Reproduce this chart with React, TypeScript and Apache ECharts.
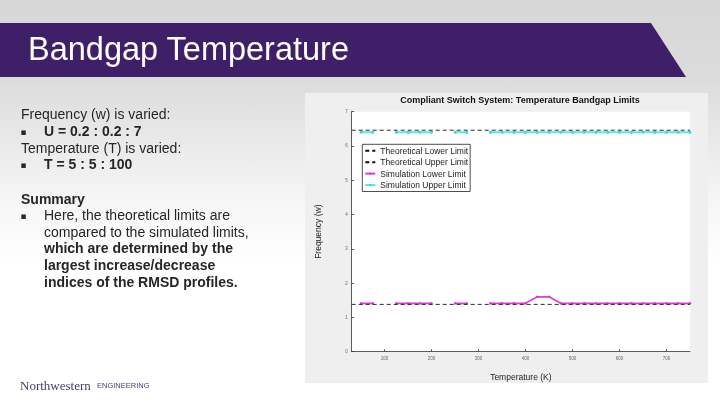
import React, { useEffect, useRef } from "react";
import * as echarts from "echarts";

// ---- data ----
const temperatureK = [50, 75, 100, 125, 150, 175, 200, 225, 250, 275, 300, 325, 350, 375, 400, 425, 450, 475, 500, 525, 550, 575, 600, 625, 650, 675, 700, 725, 750];
const simLower = [1.41, 1.41, null, 1.41, 1.41, 1.41, 1.41, null, 1.41, 1.41, null, 1.41, 1.41, 1.41, 1.41, 1.6, 1.6, 1.41, 1.41, 1.41, 1.41, 1.41, 1.41, 1.41, 1.41, 1.41, 1.41, 1.41, 1.41];
const simUpper = [6.4, 6.4, null, 6.4, 6.4, 6.4, 6.4, null, 6.4, 6.4, null, 6.4, 6.4, 6.4, 6.4, 6.4, 6.4, 6.4, 6.4, 6.4, 6.4, 6.4, 6.4, 6.4, 6.4, 6.4, 6.4, 6.4, 6.4];
const theoryX = [30, 750];
const theoryLower = [1.38, 1.38];
const theoryUpper = [6.46, 6.46];
const xTickValues = [100, 200, 300, 400, 500, 600, 700];
const seriesNames = ["Theoretical Lower Limit", "Theoretical Upper Limit", "Simulation Lower Limit", "Simulation Upper Limit"];

const slideTitle = "Bandgap Temperature";
const chartTitle = "Compliant Switch System: Temperature Bandgap Limits";
const xName = "Temperature (K)";
const yName = "Frequency (w)";

const FONT = "'Liberation Sans', Arial, sans-serif";

const pairs = (xs: number[], ys: (number | null)[]) => xs.map((x, i) => [x, ys[i]]);

export default function App() {
  const ref = useRef<HTMLDivElement>(null);
  useEffect(() => {
    const chart = echarts.init(ref.current!, null, { renderer: "svg" });
    const textColor = "#262626";
    const bodyLines: { y: number; text: string; bold?: boolean; bullet?: boolean; x?: number }[] = [
      { y: 114, text: "Frequency (w) is varied:" },
      { y: 131, text: "U = 0.2 : 0.2 : 7", bold: true, bullet: true },
      { y: 147.5, text: "Temperature (T) is varied:" },
      { y: 164, text: "T = 5 : 5 : 100", bold: true, bullet: true },
      { y: 199, text: "Summary", bold: true },
      { y: 215, text: "Here, the theoretical limits are", bullet: true },
      { y: 231.5, text: "compared to the simulated limits,", x: 44 },
      { y: 248, text: "which are determined by the", bold: true, x: 44 },
      { y: 265, text: "largest increase/decrease", bold: true, x: 44 },
      { y: 282, text: "indices of the RMSD profiles.", bold: true, x: 44 },
    ];
    const graphics: any[] = [
      {
        type: "rect",
        z: -20,
        shape: { x: 0, y: 0, width: 720, height: 405 },
        style: {
          fill: new echarts.graphic.LinearGradient(0, 0, 0, 1, [
            { offset: 0, color: "#d7d7d7" },
            { offset: 0.2, color: "#dcdcdc" },
            { offset: 0.3, color: "#e5e5e5" },
            { offset: 0.5, color: "#f6f6f6" },
            { offset: 0.65, color: "#ffffff" },
            { offset: 1, color: "#ffffff" },
          ]),
        },
        silent: true,
      },
      {
        type: "polygon",
        z: -19,
        shape: { points: [[0, 23], [651, 23], [686, 77], [0, 77]] },
        style: { fill: "#3f1f68" },
        silent: true,
      },
      {
        type: "text",
        z: -18,
        x: 28,
        y: 49,
        style: { text: slideTitle, fill: "#ffffff", font: `32.5px ${FONT}`, verticalAlign: "middle" },
      },
      {
        type: "rect",
        z: -19,
        shape: { x: 305, y: 93, width: 403, height: 290 },
        style: { fill: "#efefef" },
        silent: true,
      },
      {
        type: "text",
        z: 5,
        x: 520,
        y: 100,
        style: { text: chartTitle, fill: "#111", font: `bold 9px ${FONT}`, align: "center", verticalAlign: "middle" },
      },
      {
        type: "text",
        z: 5,
        x: 20,
        y: 385,
        style: { text: "Northwestern", fill: "#4a3b6b", font: `13px 'Liberation Serif', 'Times New Roman', serif`, verticalAlign: "middle" },
      },
      {
        type: "text",
        z: 5,
        x: 97,
        y: 385.5,
        style: { text: "ENGINEERING", fill: "#4e3c75", font: `7.5px ${FONT}`, verticalAlign: "middle" },
      },
    ];
    bodyLines.forEach((l) => {
      if (l.bullet) {
        graphics.push({
          type: "text",
          z: 5,
          x: 20.5,
          y: l.y + 0.5,
          style: { text: "▪", fill: textColor, font: `9px 'DejaVu Sans', sans-serif`, verticalAlign: "middle" },
        });
      }
      graphics.push({
        type: "text",
        z: 5,
        x: l.x ?? (l.bullet ? 44 : 21),
        y: l.y,
        style: { text: l.text, fill: textColor, font: `${l.bold ? "bold " : ""}14px ${FONT}`, verticalAlign: "middle" },
      });
    });

    chart.setOption({
      animation: false,
      textStyle: { fontFamily: FONT },
      graphic: { elements: graphics },
      grid: {
        left: 351.7,
        top: 111.7,
        width: 338.3,
        height: 240,
        show: true,
        backgroundColor: "#ffffff",
        borderWidth: 0,
        containLabel: false,
        outerBoundsMode: "none",
      },
      legend: {
        orient: "vertical",
        left: 362.3,
        top: 144.3,
        padding: [2, 2, 2, 2],
        itemWidth: 10,
        itemHeight: 3,
        itemGap: 2.4,
        backgroundColor: "#ffffff",
        borderColor: "#222",
        borderWidth: 0.8,
        borderRadius: 0,
        data: [
          { name: seriesNames[0], itemStyle: { opacity: 0 } },
          { name: seriesNames[1], itemStyle: { opacity: 0 } },
          { name: seriesNames[2] },
          { name: seriesNames[3] },
        ],
        textStyle: { fontSize: 8.5, lineHeight: 8.5, color: "#222", fontFamily: FONT },
      },
      xAxis: {
        type: "value",
        min: 30,
        max: 750,
        name: xName,
        nameLocation: "middle",
        nameGap: 20.5,
        nameTextStyle: { fontSize: 8.5, color: "#222", fontFamily: FONT },
        axisLine: { show: true, lineStyle: { color: "#333", width: 0.8 } },
        axisTick: { show: true, inside: true, length: 2.5, customValues: xTickValues, lineStyle: { color: "#333", width: 0.8 } },
        axisLabel: { customValues: xTickValues, fontSize: 4.5, color: "#666", margin: 4 },
        splitLine: { show: false },
      },
      yAxis: {
        type: "value",
        min: 0,
        max: 7,
        interval: 1,
        name: yName,
        nameLocation: "middle",
        nameRotate: 90,
        nameGap: 29.5,
        nameTextStyle: { fontSize: 8.5, color: "#222", fontFamily: FONT },
        axisLine: { show: true, lineStyle: { color: "#333", width: 0.8 } },
        axisTick: { show: true, inside: true, length: 2.5, lineStyle: { color: "#333", width: 0.8 } },
        axisLabel: { fontSize: 4.5, color: "#666", margin: 4 },
        splitLine: { show: false },
      },
      series: [
        {
          name: seriesNames[0],
          type: "line",
          data: pairs(theoryX, theoryLower),
          symbol: "none",
          color: "#111",
          lineStyle: { color: "#111", width: 0.9, type: [4, 3] },
          z: 3,
        },
        {
          name: seriesNames[1],
          type: "line",
          data: pairs(theoryX, theoryUpper),
          symbol: "none",
          color: "#111",
          lineStyle: { color: "#111", width: 0.9, type: [4, 3] },
          z: 3,
        },
        {
          name: seriesNames[2],
          type: "line",
          data: pairs(temperatureK, simLower),
          connectNulls: false,
          symbol: "circle",
          symbolSize: 2.5,
          color: "#dc3fdc",
          itemStyle: { color: "#d23ad2" },
          lineStyle: { color: "#dc3fdc", width: 1.7 },
          z: 2,
        },
        {
          name: seriesNames[3],
          type: "line",
          data: pairs(temperatureK, simUpper),
          connectNulls: false,
          symbol: "circle",
          symbolSize: 3,
          color: "#4fe3e3",
          itemStyle: { color: "#3ad8d8" },
          lineStyle: { color: "#5ce6e6", width: 2.2 },
          z: 2,
        },
      ],
    });
    return () => chart.dispose();
  }, []);
  return <div ref={ref} style={{ position: "fixed", left: 0, top: 0, width: 720, height: 405 }} />;
}
